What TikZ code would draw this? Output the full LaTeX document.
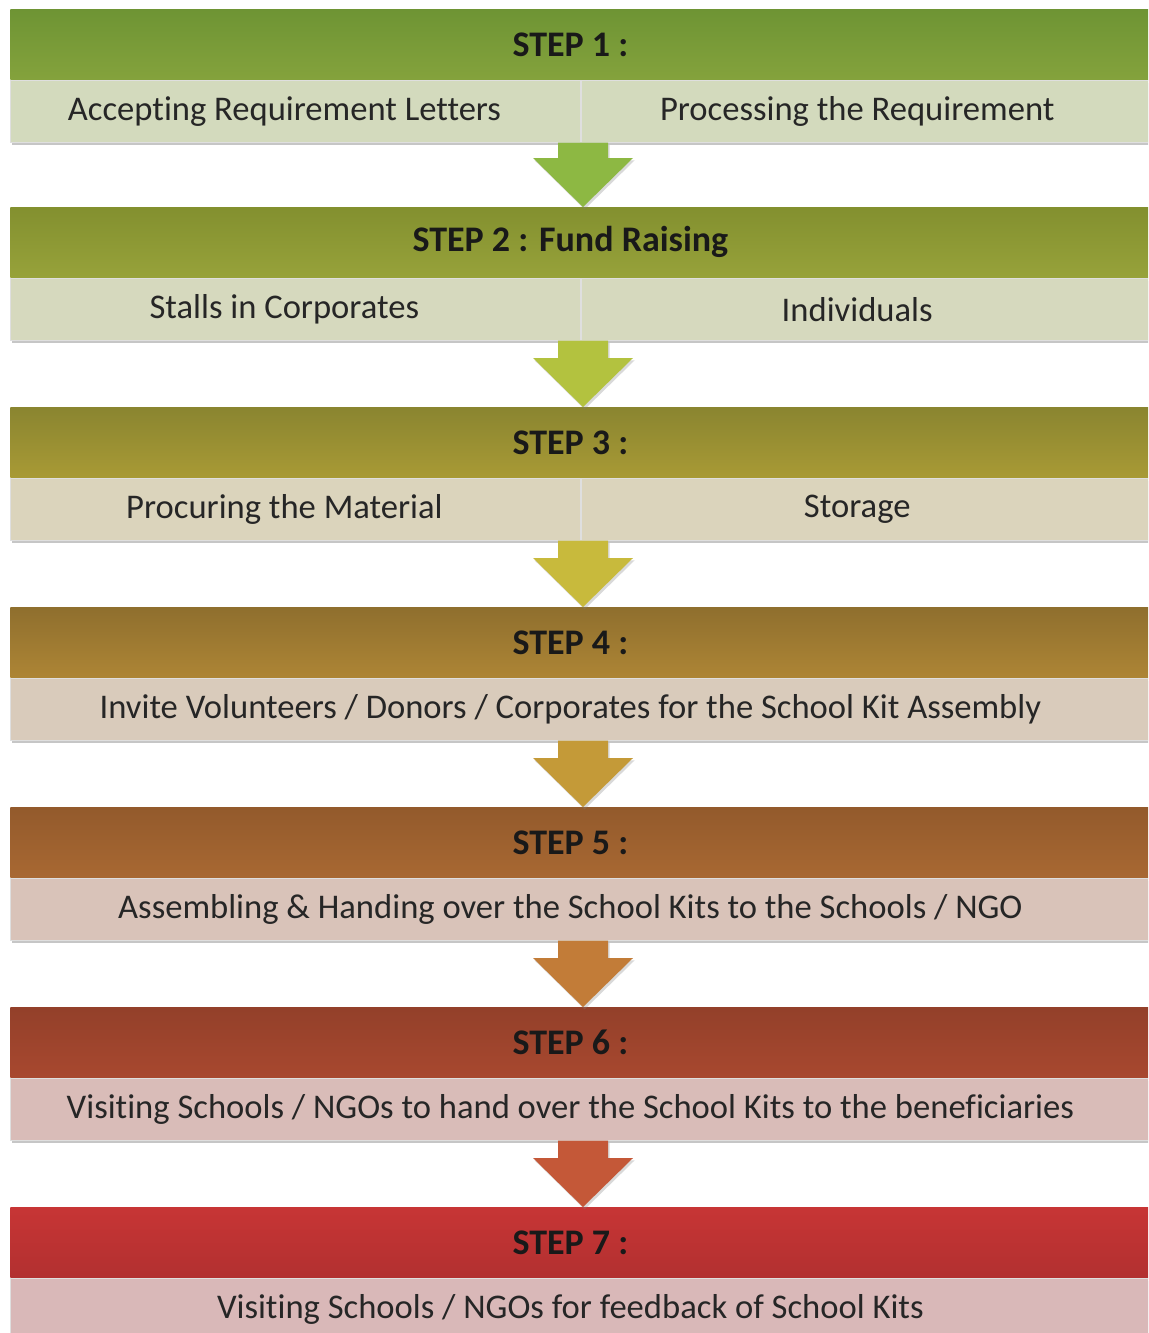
\documentclass[tikz,border=0pt]{standalone}
\usepackage{fontspec}
\setmainfont{Carlito}[Ligatures=NoCommon]
\usetikzlibrary{positioning,calc,shadows}

\definecolor{hAtop}{HTML}{6E9434}\definecolor{hAbot}{HTML}{84A23C}
\definecolor{hBtop}{HTML}{83902F}\definecolor{hBbot}{HTML}{97A23A}
\definecolor{hCtop}{HTML}{8A8530}\definecolor{hCbot}{HTML}{A89A35}
\definecolor{hDtop}{HTML}{8F6F2E}\definecolor{hDbot}{HTML}{AD8535}
\definecolor{hEtop}{HTML}{935A2C}\definecolor{hEbot}{HTML}{A86832}
\definecolor{hFtop}{HTML}{93402A}\definecolor{hFbot}{HTML}{A8482F}
\definecolor{hGtop}{HTML}{C73535}\definecolor{hGbot}{HTML}{B23030}
\definecolor{sA}{HTML}{D3DABD}\definecolor{sB}{HTML}{D6D9BE}
\definecolor{sC}{HTML}{DBD4BC}\definecolor{sD}{HTML}{D9CBBB}
\definecolor{sE}{HTML}{D9C3B9}\definecolor{sF}{HTML}{D9BCB8}
\definecolor{sG}{HTML}{D9B8B8}
\definecolor{aA}{HTML}{8DB843}\definecolor{aB}{HTML}{B3C23F}
\definecolor{aC}{HTML}{C8BA3C}\definecolor{aD}{HTML}{C49A38}
\definecolor{aE}{HTML}{C27C38}\definecolor{aF}{HTML}{C45838}

\tikzset{
    header/.style={anchor=north west, minimum width=575pt, minimum height=35pt,
        inner sep=0pt, text=black!90, font=\bfseries\fontsize{18}{21}\selectfont,
        execute at begin node={\hskip-15pt}},
    subbase/.style={anchor=north west, minimum height=31pt,
        inner sep=0pt, draw=white!75!gray, line width=0.4pt, text=black!85,
        font=\fontsize{17.3}{20}\selectfont,
        drop shadow={shadow xshift=0.8pt, shadow yshift=-1.6pt, opacity=0.45}},
    subfull/.style={subbase, minimum width=575pt, execute at begin node={\hskip-15pt}},
    subleft/.style={subbase, minimum width=285pt, execute at begin node={\hskip-11pt}},
    subright/.style={subbase, minimum width=290pt, execute at begin node={\hskip-14pt}},
    flowarrow/.style={drop shadow={shadow xshift=0.8pt, shadow yshift=-1.2pt, opacity=0.3}}
}

\begin{document}
\begin{tikzpicture}[x=0.5pt, y=-0.5pt]
    \useasboundingbox (0,0) rectangle (1148,1333);
    \clip (0,0) rectangle (1148,1333);

    % step 1
    \node[header, top color=hAtop, bottom color=hAbot] (h1) at (10,9) {STEP 1 :};
    \node[subleft, fill=sA, below=0pt of h1.south west, anchor=north west] (s1a) {Accepting Requirement Letters};
    \node[subright, fill=sA, anchor=north west] (s1b) at (s1a.north east) {Processing the Requirement};

    % step 2
    \node[header, top color=hBtop, bottom color=hBbot] (h2) at (10,207) {STEP 2 : Fund Raising};
    \node[subleft, fill=sB, below=0pt of h2.south west, anchor=north west] (s2a) {Stalls in Corporates};
    \node[subright, fill=sB, anchor=north west] (s2b) at (s2a.north east) {Individuals};

    % step 3
    \node[header, top color=hCtop, bottom color=hCbot] (h3) at (10,407) {STEP 3 :};
    \node[subleft, fill=sC, below=0pt of h3.south west, anchor=north west] (s3a) {Procuring the Material};
    \node[subright, fill=sC, anchor=north west] (s3b) at (s3a.north east) {Storage};

    % step 4
    \node[header, top color=hDtop, bottom color=hDbot] (h4) at (10,607) {STEP 4 :};
    \node[subfull, fill=sD, below=0pt of h4.south west, anchor=north west] (s4) {Invite Volunteers / Donors / Corporates for the School Kit Assembly};

    % step 5
    \node[header, top color=hEtop, bottom color=hEbot] (h5) at (10,807) {STEP 5 :};
    \node[subfull, fill=sE, below=0pt of h5.south west, anchor=north west] (s5) {Assembling \& Handing over the School Kits to the Schools / NGO};

    % step 6
    \node[header, top color=hFtop, bottom color=hFbot] (h6) at (10,1007) {STEP 6 :};
    \node[subfull, fill=sF, below=0pt of h6.south west, anchor=north west] (s6) {Visiting Schools / NGOs to hand over the School Kits to the beneficiaries};

    % step 7
    \node[header, top color=hGtop, bottom color=hGbot] (h7) at (10,1207) {STEP 7 :};
    \node[subfull, fill=sG, below=0pt of h7.south west, anchor=north west] (s7) {Visiting Schools / NGOs for feedback of School Kits};

    % arrows between the steps
    \foreach \a/\b/\c in {s1a/h2/aA, s2a/h3/aB, s3a/h4/aC, s4/h5/aD, s5/h6/aE, s6/h7/aF}
        \fill[\c, flowarrow] ($(\a.south west)+(548,0)$) -- ($(\b.north west)+(548,-49)$)
            -- ++(-25,0) -- ($(\b.north west)+(573,0)$) -- ++(50,-49) -- ++(-25,0)
            -- ($(\a.south west)+(598,0)$) -- cycle;
\end{tikzpicture}
\end{document}
